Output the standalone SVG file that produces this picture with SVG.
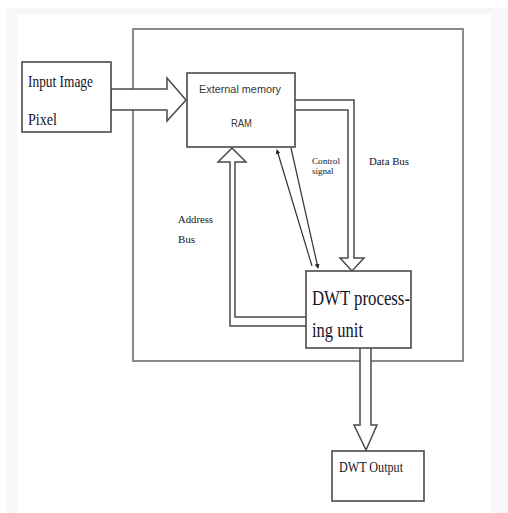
<svg xmlns="http://www.w3.org/2000/svg" width="508" height="513" viewBox="0 0 508 513">
<defs>
<style>
.box{fill:#fff;stroke:#4a4a4a;stroke-width:1.6}
.bus{fill:#fff;stroke:#4a4a4a;stroke-width:1.5;stroke-linejoin:miter}
.line{fill:none;stroke:#333;stroke-width:1.2}
.serif{font-family:"Liberation Serif","Times New Roman",serif;fill:#15151f}
.sans{font-family:"Liberation Sans",Arial,sans-serif;fill:#3a3530}
</style>
<marker id="ah" viewBox="0 0 6 6" refX="5" refY="3" markerWidth="4" markerHeight="4" orient="auto">
<path d="M0,0 L6,3 L0,6 z" fill="#222"/>
</marker>
</defs>
<rect x="0" y="0" width="508" height="513" fill="#fff"/>
<rect x="6" y="8" width="502" height="505" fill="#f7f7f7"/>
<rect x="17" y="14" width="474" height="499" fill="#fff"/>
<g id="system">
<rect x="133" y="29" width="330" height="332" fill="none" stroke="#8a8a8a" stroke-width="2"/>
</g>
<g id="connectors">
<path class="bus" d="M111,89 L167,89 L167,78 L186,100 L167,121 L167,110 L111,110 Z"/>
<path class="bus" d="M295,100 L354,100 L354,258 L364,258 L352,271 L340,258 L348,258 L348,110 L295,110"/>
<path class="bus" d="M306,326 L230,326 L230,162 L218,162 L232,148 L246,162 L235,162 L235,317 L306,317"/>
<path class="bus" d="M360,348 L360,425 L354,425 L366,450 L377,425 L371,425 L371,348"/>
<line class="line" x1="312" y1="266" x2="277" y2="150" marker-end="url(#ah)"/>
<line class="line" x1="291" y1="148" x2="318" y2="268" marker-end="url(#ah)"/>
</g>
<g id="input">
<rect class="box" x="22" y="62" width="89" height="70"/>
<text class="serif" x="28" y="87" font-size="16" textLength="65" lengthAdjust="spacingAndGlyphs">Input Image</text>
<text class="serif" x="28" y="125" font-size="16" textLength="29" lengthAdjust="spacingAndGlyphs">Pixel</text>
</g>
<g id="ram">
<rect class="box" x="187" y="73" width="108" height="74"/>
<text class="sans" x="199" y="93" font-size="11" textLength="82" lengthAdjust="spacingAndGlyphs">External memory</text>
<text class="sans" x="231" y="127" font-size="11" textLength="21" lengthAdjust="spacingAndGlyphs">RAM</text>
</g>
<g id="dwt">
<rect class="box" x="306" y="271" width="105" height="77"/>
<text class="serif" x="312" y="305" font-size="21" textLength="98" lengthAdjust="spacingAndGlyphs">DWT process-</text>
<text class="serif" x="312" y="337" font-size="20" textLength="51" lengthAdjust="spacingAndGlyphs">ing unit</text>
</g>
<g id="output">
<rect class="box" x="332" y="451" width="92" height="50"/>
<text class="serif" x="339" y="472" font-size="14" textLength="64" lengthAdjust="spacingAndGlyphs">DWT Output</text>
</g>
<g id="labels">
<text class="serif" x="312" y="164" font-size="9" textLength="28" lengthAdjust="spacingAndGlyphs">Control</text>
<text class="serif" x="312" y="174" font-size="9">signal</text>
<text class="serif" x="369" y="165" font-size="11" textLength="40" lengthAdjust="spacingAndGlyphs">Data Bus</text>
<text class="serif" x="178" y="223" font-size="11" textLength="35" lengthAdjust="spacingAndGlyphs">Address</text>
<text class="serif" x="178" y="243" font-size="11">Bus</text>
</g>
</svg>
